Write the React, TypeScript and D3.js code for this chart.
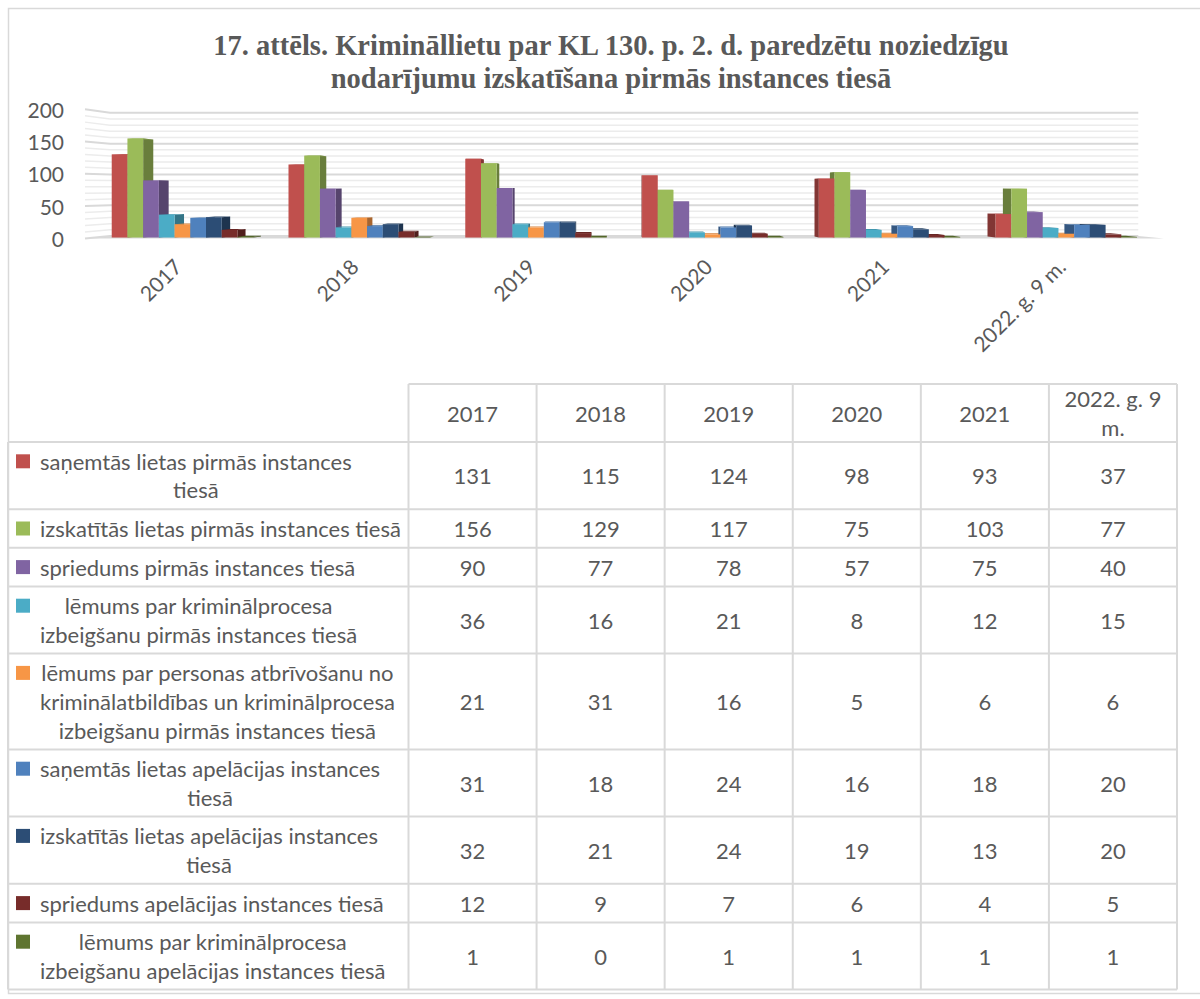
import React from "react";
import * as d3 from "d3";

// ---------- DATA ----------
const categories = ["2017", "2018", "2019", "2020", "2021", "2022. g. 9 m."];
const seriesNames = [
  "saņemtās lietas pirmās instances\ntiesā",
  "izskatītās lietas pirmās instances tiesā",
  "spriedums pirmās instances tiesā",
  "lēmums par kriminālprocesa\nizbeigšanu pirmās instances tiesā",
  "lēmums par personas atbrīvošanu no\nkriminālatbildības un kriminālprocesa\nizbeigšanu pirmās instances tiesā",
  "saņemtās lietas apelācijas instances\ntiesā",
  "izskatītās lietas apelācijas instances\ntiesā",
  "spriedums apelācijas instances tiesā",
  "lēmums par kriminālprocesa\nizbeigšanu apelācijas instances tiesā",
];
const seriesColors = [
  "#C0504D", "#9BBB59", "#8064A2", "#4BACC6", "#F79646",
  "#4F81BD", "#2C4D75", "#772C2A", "#5F7530",
];
const receivedFirst = [131, 115, 124, 98, 93, 37];
const examinedFirst = [156, 129, 117, 75, 103, 77];
const judgmentFirst = [90, 77, 78, 57, 75, 40];
const terminationFirst = [36, 16, 21, 8, 12, 15];
const releaseFirst = [21, 31, 16, 5, 6, 6];
const receivedAppeal = [31, 18, 24, 16, 18, 20];
const examinedAppeal = [32, 21, 24, 19, 13, 20];
const judgmentAppeal = [12, 9, 7, 6, 4, 5];
const terminationAppeal = [1, 0, 1, 1, 1, 1];
const seriesValues = [
  receivedFirst, examinedFirst, judgmentFirst, terminationFirst, releaseFirst,
  receivedAppeal, examinedAppeal, judgmentAppeal, terminationAppeal,
];
const yTicks = [0, 50, 100, 150, 200];
const titleLines = [
  "17. attēls. Krimināllietu par KL 130. p. 2. d. paredzētu noziedzīgu",
  "nodarījumu izskatīšana pirmās instances tiesā",
];

// ---------- LAYOUT ----------
const W = 1200;
const H = 999;
const TEXT = "#595959";
const GRID = "#d9d9d9";
const SANS = "Lato, 'Open Sans', sans-serif";

// perspective
const VX = 617;
const VY = 187;
const S_FRONT = 0.983;
const S_BACK = 0.962;
const S_WALL = 0.953;
const P = (X: number, Y: number, s: number): [number, number] => [VX + (X - VX) * s, VY + (Y - VY) * s];
const pts = (a: [number, number][]) => a.map((p) => `${p[0].toFixed(2)},${p[1].toFixed(2)}`).join(" ");

const yF = d3.scaleLinear().domain([0, 200]).range([238.4, 109.2]);
const xBand = d3.scaleBand<string>().domain(categories).range([85, 1164]).paddingInner(0.2).paddingOuter(0.1);
const xSub = d3.scaleBand<number>().domain(d3.range(seriesNames.length)).range([0, xBand.bandwidth()]).padding(0);

// table
const TABLE_LEFT = 8;
const COL0_RIGHT = 408.5;
const TABLE_RIGHT = 1177;
const HEADER_TOP = 384;
const HEADER_BOTTOM = 442;
const LINE_H = 28.6;
const ROW_PAD = 10;
const colX = d3.scaleBand<string>().domain(categories).range([COL0_RIGHT, TABLE_RIGHT]);

function measure(text: string, font: string): number {
  const c = document.createElement("canvas").getContext("2d");
  if (!c) return text.length * 10;
  c.font = font;
  return c.measureText(text).width;
}

function wrap(text: string, maxW: number, font: string): string[] {
  const words = text.split(" ");
  const lines: string[] = [];
  let cur = "";
  for (const w of words) {
    const t = cur ? cur + " " + w : w;
    if (measure(t, font) > maxW && cur) {
      lines.push(cur);
      cur = w;
    } else cur = t;
  }
  if (cur) lines.push(cur);
  return lines;
}

export default function App() {
  const minorTicks = d3.range(0, 201, 10).filter((v) => v % 50 !== 0);
  const x0 = xBand.range()[0];
  const x1 = xBand.range()[1];
  const y0 = yF(0);

  // bars
  const backFaces: JSX.Element[] = [];
  const frontFaces: JSX.Element[] = [];
  categories.forEach((cat, ci) => {
    seriesValues.forEach((vals, si) => {
      const v = vals[ci];
      const xl = (xBand(cat) as number) + (xSub(si) as number);
      const xr = xl + xSub.bandwidth();
      const yt = yF(v);
      const col = d3.color(seriesColors[si])!;
      const mid = P((xl + xr) / 2, yt, S_FRONT)[0];
      const xe = mid < VX ? xr : xl;
      backFaces.push(
        <polygon key={`s${ci}-${si}`}
          points={pts([P(xe, yt, S_FRONT), P(xe, yt, S_BACK), P(xe, y0, S_BACK), P(xe, y0, S_FRONT)])}
          fill={col.darker(1.1).formatHex()} />
      );
      backFaces.push(
        <polygon key={`t${ci}-${si}`}
          points={pts([P(xl, yt, S_FRONT), P(xr, yt, S_FRONT), P(xr, yt, S_BACK), P(xl, yt, S_BACK)])}
          fill={col.darker(0.4).formatHex()} />
      );
      if (v > 0) {
        const a = P(xl, yt, S_FRONT);
        const b = P(xr, y0, S_FRONT);
        frontFaces.push(
          <rect key={`f${ci}-${si}`} x={a[0]} y={a[1]} width={b[0] - a[0]} height={b[1] - a[1]} fill={seriesColors[si]} />
        );
      }
    });
  });

  // table rows
  const rowLines = seriesNames.map((n) => n.split("\n"));
  const rowTops: number[] = [];
  let yy = HEADER_BOTTOM;
  rowLines.forEach((l) => {
    rowTops.push(yy);
    yy += ROW_PAD + LINE_H * l.length;
  });
  const tableBottom = yy;

  const tableFont = `22px Lato`;

  return (
    <svg width={W} height={H} style={{ position: "absolute", left: 0, top: 0, background: "#fff" }}
      fontFamily={SANS}>
      <rect x={0} y={0} width={W} height={H} fill="#fff" />
      {/* outer frame */}
      <rect x={8.5} y={8.5} width={1205} height={985} fill="none" stroke={GRID} strokeWidth={1.5} />

      {/* title */}
      <g fontFamily="'Liberation Serif', 'Times New Roman', serif" fontWeight="bold" fontSize={28.5} fill={TEXT} textAnchor="middle">
        {titleLines.map((t, i) => (
          <text key={i} x={611} y={55 + i * 33}>{t}</text>
        ))}
      </g>

      {/* floor */}
      <polygon points={pts([P(x0, y0, 1), P(x1, y0, 1), P(x1, y0, S_WALL), P(x0, y0, S_WALL)])} fill="#d9d9d9" />

      {/* minor gridlines */}
      {minorTicks.map((v) => {
        const y = yF(v);
        return (
          <polyline key={`m${v}`} points={pts([P(x0, y, 1), P(x0, y, S_WALL), P(x1, y, S_WALL)])}
            fill="none" stroke="#ececec" strokeWidth={1.5} />
        );
      })}
      {/* major gridlines */}
      {yTicks.map((v) => {
        const y = yF(v);
        return (
          <polyline key={`M${v}`} points={pts([P(x0, y, 1), P(x0, y, S_WALL), P(x1, y, S_WALL)])}
            fill="none" stroke={GRID} strokeWidth={2} />
        );
      })}

      {/* y axis labels */}
      <g fontSize={21} fill={TEXT} textAnchor="end">
        {yTicks.map((v) => (
          <text key={v} x={64} y={yF(v)} dominantBaseline="central">{v}</text>
        ))}
      </g>

      {/* bars */}
      <g>{backFaces}</g>
      <g>{frontFaces}</g>

      {/* x labels */}
      <g fontSize={21} fill={TEXT} textAnchor="end">
        {categories.map((c) => {
          const cx = P((xBand(c) as number) + xBand.bandwidth() / 2, y0, S_FRONT)[0];
          return (
            <text key={c} transform={`translate(${cx - 5},${y0 + 24}) rotate(-45)`} dominantBaseline="central">{c}</text>
          );
        })}
      </g>

      {/* data table */}
      <g stroke={GRID} strokeWidth={2} fill="none">
        <line x1={COL0_RIGHT} x2={TABLE_RIGHT} y1={HEADER_TOP} y2={HEADER_TOP} />
        <line x1={TABLE_LEFT} x2={TABLE_RIGHT} y1={HEADER_BOTTOM} y2={HEADER_BOTTOM} />
        {rowTops.map((t, i) => (
          <line key={i} x1={TABLE_LEFT} x2={TABLE_RIGHT} y1={t + ROW_PAD + LINE_H * rowLines[i].length} y2={t + ROW_PAD + LINE_H * rowLines[i].length} />
        ))}
        <line x1={TABLE_LEFT} x2={TABLE_LEFT} y1={HEADER_BOTTOM} y2={tableBottom} />
        {categories.map((c) => (
          <line key={c} x1={colX(c)} x2={colX(c)} y1={HEADER_TOP} y2={tableBottom} />
        ))}
        <line x1={TABLE_RIGHT} x2={TABLE_RIGHT} y1={HEADER_TOP} y2={tableBottom} />
      </g>

      {/* header */}
      <g fontSize={22} fill={TEXT} textAnchor="middle">
        {categories.map((c) => {
          const lines = wrap(c, colX.bandwidth() - 16, tableFont);
          const cx = (colX(c) as number) + colX.bandwidth() / 2;
          const cy = (HEADER_TOP + HEADER_BOTTOM) / 2;
          return lines.map((l, li) => (
            <text key={c + li} x={cx} y={cy + (li - (lines.length - 1) / 2) * 29} dominantBaseline="central">{l}</text>
          ));
        })}
      </g>

      {/* rows */}
      <g fontSize={22} fill={TEXT}>
        {rowLines.map((lines, i) => {
          const top = rowTops[i];
          const h = ROW_PAD + LINE_H * lines.length;
          const cy = top + h / 2;
          const firstY = cy - ((lines.length - 1) / 2) * LINE_H;
          const maxW = d3.max(lines, (l) => measure(l, tableFont)) ?? 0;
          const blockCx = 40 + maxW / 2;
          return (
            <g key={i}>
              <rect x={16} y={firstY - 7} width={14} height={14} fill={seriesColors[i]} />
              {lines.map((l, li) => (
                <text key={li} x={blockCx} y={firstY + li * LINE_H} textAnchor="middle" dominantBaseline="central">{l}</text>
              ))}
              {categories.map((cat, ci) => (
                <text key={cat} x={(colX(cat) as number) + colX.bandwidth() / 2} y={cy} textAnchor="middle" dominantBaseline="central">
                  {seriesValues[i][ci]}
                </text>
              ))}
            </g>
          );
        })}
      </g>
    </svg>
  );
}
